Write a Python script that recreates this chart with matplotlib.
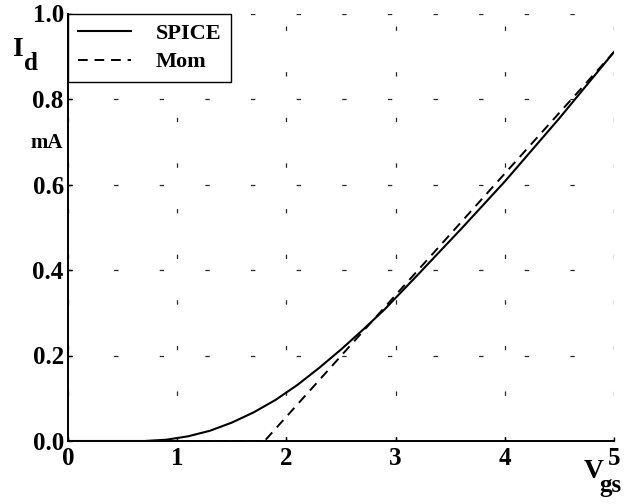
import matplotlib
matplotlib.use("Agg")
import matplotlib.pyplot as plt

# ── Data ───────────────────────────────────────────────────────────────────────
vgs_spice = [0.0, 0.7, 0.9, 1.1, 1.3, 1.5, 1.7, 1.9, 2.1, 2.3, 2.5, 2.7,
             2.9, 3.2, 3.6, 4.0, 4.5, 5.0]
id_spice  = [0.0, 0.0, 0.003, 0.011, 0.024, 0.043, 0.067, 0.096, 0.131,
             0.171, 0.214, 0.260, 0.308, 0.388, 0.496, 0.607, 0.755, 0.910]

vgs_mom = [0.0, 1.8, 5.0]
id_mom  = [0.0, 0.0, 0.910]

xticks = [0, 1, 2, 3, 4, 5]
yticks = [0.0, 0.2, 0.4, 0.6, 0.8, 1.0]
ytick_labels = ["0.0", "0.2", "0.4", "0.6", "0.8", "1.0"]

FONT = "Liberation Serif"
FS = 18

plt.rcParams.update({
    "font.family": FONT,
    "font.weight": "bold",
})

fig = plt.figure(figsize=(6.24, 5.04), dpi=100)
ax = fig.add_axes([68 / 624, 63 / 504, 546 / 624, 427.5 / 504])

ax.plot(vgs_spice, id_spice, color="black", lw=1.5, label="SPICE")
ax.plot(vgs_mom, id_mom, color="black", lw=1.4, dashes=(5, 3.5), label="Mom")

ax.set_xlim(0, 5)
ax.set_ylim(0, 1.0)
ax.set_xticks(xticks)
ax.set_yticks(yticks)
ax.set_yticklabels(ytick_labels)

for s in ["top", "right"]:
    ax.spines[s].set_visible(False)
for s in ["left", "bottom"]:
    ax.spines[s].set_linewidth(1.4)

ax.tick_params(axis="both", direction="in", length=3, width=1,
               labelsize=FS)
ax.tick_params(axis="x", pad=4)
ax.tick_params(axis="y", pad=3)

# sparse dashed grid as in the scanned plot
ax.grid(True, color="0.15", lw=0.9, dashes=(3.5, 33))
ax.set_axisbelow(True)

# axis labels placed like the original
ax.text(-0.092, 0.915, "I", transform=ax.get_yaxis_transform(),
        ha="center", va="center", fontsize=FS + 2)
ax.text(-0.068, 0.884, "d", transform=ax.get_yaxis_transform(),
        ha="center", va="center", fontsize=FS)
ax.text(-0.009, 0.697, "mA", transform=ax.get_yaxis_transform(),
        ha="right", va="center", fontsize=FS - 3)
ax.text(0.963, -0.072, "V", transform=ax.transAxes,
        ha="center", va="center", fontsize=FS + 2)
ax.text(0.994, -0.103, "gs", transform=ax.transAxes,
        ha="center", va="center", fontsize=FS)

leg = ax.legend(loc="upper left", borderaxespad=0, fontsize=16,
                handlelength=2.4, handletextpad=1.1, labelspacing=0.35,
                fancybox=False, framealpha=1, edgecolor="black",
                borderpad=0.45)
leg.get_frame().set_linewidth(1.0)

fig.savefig("out.png", dpi=100)
